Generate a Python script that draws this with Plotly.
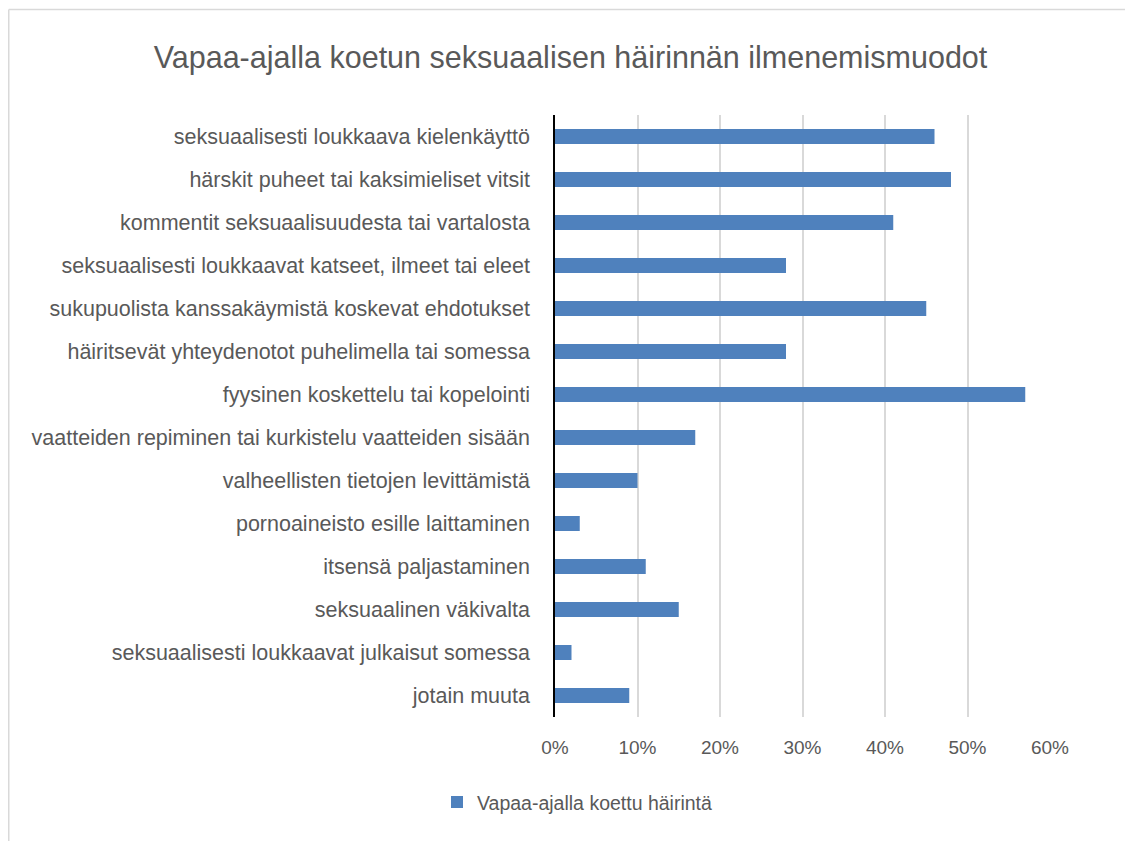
import plotly.graph_objects as go

# page has an 8px body margin, so the figure is a bit smaller than the window
OFF = 8
W, H = 1133 - OFF, 841 - OFF

categories = [
    "seksuaalisesti loukkaava kielenkäyttö",
    "härskit puheet tai kaksimieliset vitsit",
    "kommentit seksuaalisuudesta tai vartalosta",
    "seksuaalisesti loukkaavat katseet, ilmeet tai eleet",
    "sukupuolista kanssakäymistä koskevat ehdotukset",
    "häiritsevät yhteydenotot puhelimella tai somessa",
    "fyysinen koskettelu tai kopelointi",
    "vaatteiden repiminen tai kurkistelu vaatteiden sisään",
    "valheellisten tietojen levittämistä",
    "pornoaineisto esille laittaminen",
    "itsensä paljastaminen",
    "seksuaalinen väkivalta",
    "seksuaalisesti loukkaavat julkaisut somessa",
    "jotain muuta",
]
values = [0.46, 0.48, 0.41, 0.28, 0.45, 0.28, 0.57, 0.17, 0.10, 0.03, 0.11, 0.15, 0.02, 0.09]
series_name = "Vapaa-ajalla koettu häirintä"
x_ticks = [0, 0.1, 0.2, 0.3, 0.4, 0.5, 0.6]

TEXT = "#595959"
BLUE = "#4f81bd"

fig = go.Figure(
    go.Bar(
        y=categories,
        x=values,
        orientation="h",
        name=series_name,
        width=0.35,
        marker=dict(color=BLUE, line=dict(width=0)),
        showlegend=True,
    )
)

# plot area in page pixels: x 555..1050, y 114.5..717.5
L = 555 - OFF
R = W - (1050 - OFF)
T = 114.5 - OFF
B = H - (717.5 - OFF)
pw, ph = W - L - R, H - T - B


def px(v):
    return (v - OFF - L) / pw


def py(v):
    return 1 - (v - OFF - T) / ph


fig.update_layout(
    width=W,
    height=H,
    margin=dict(l=L, r=R, t=T, b=B, pad=0),
    paper_bgcolor="white",
    plot_bgcolor="white",
    font=dict(family="Liberation Sans, Arial, sans-serif", size=21.5, color=TEXT),
    title=dict(
        text="Vapaa-ajalla koetun seksuaalisen häirinnän ilmenemismuodot",
        font=dict(size=30.5, color=TEXT),
        x=0.5,
        xanchor="center",
        y=1 - (57 - OFF) / H,
        yanchor="middle",
    ),
    xaxis=dict(
        range=[0, 0.6],
        tickvals=x_ticks,
        tickformat=".0%",
        tickfont=dict(size=19),
        showgrid=True,
        gridcolor="#d9d9d9",
        gridwidth=1.5,
        zeroline=False,
        showline=False,
        ticks="",
        ticklabelstandoff=17,
    ),
    yaxis=dict(
        autorange="reversed",
        showline=True,
        linecolor="black",
        linewidth=1.5,
        ticks="",
        ticklabelstandoff=19,
        showgrid=False,
    ),
    legend=dict(
        orientation="h",
        x=px(437),
        xanchor="left",
        y=py(803),
        yanchor="middle",
        font=dict(size=19.5, color=TEXT),
        itemwidth=30,
    ),
)

# thin light border of the chart area (top and left edges visible)
fig.add_shape(type="line", xref="paper", yref="paper",
              x0=px(OFF + 0.75), x1=px(1140), y0=py(OFF + 0.75), y1=py(OFF + 0.75),
              line=dict(color="#d9d9d9", width=1.5))
fig.add_shape(type="line", xref="paper", yref="paper",
              x0=px(OFF + 0.75), x1=px(OFF + 0.75), y0=py(OFF + 0.75), y1=py(850),
              line=dict(color="#d9d9d9", width=1.5))

fig.write_html("out.html")
